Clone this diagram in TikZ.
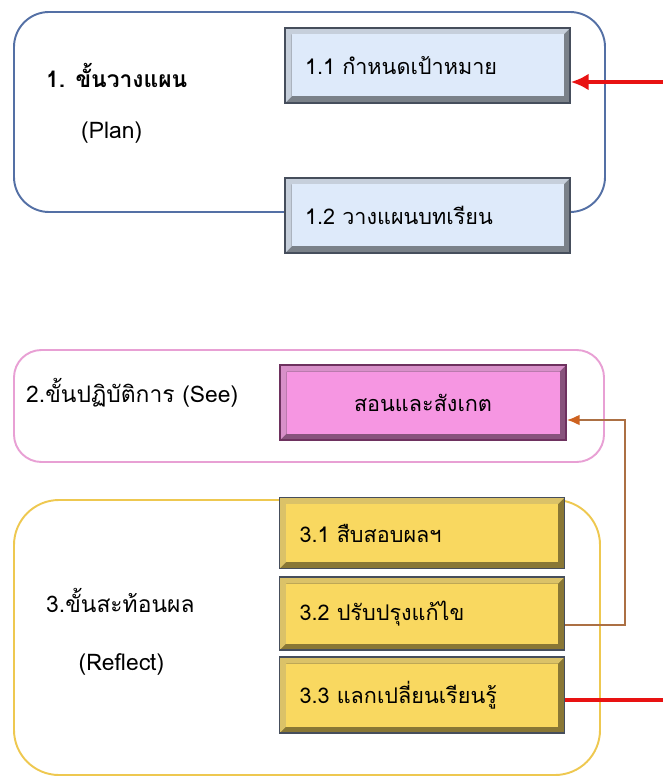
\documentclass[tikz,border=0pt]{standalone}
\usepackage{fontspec}
\setmainfont[Script=Thai]{Loma}
\usepackage{xcolor}
\usetikzlibrary{arrows.meta}

\definecolor{planline}{RGB}{84,112,165}
\definecolor{seeline}{RGB}{232,160,212}
\definecolor{refline}{RGB}{238,200,80}
\definecolor{planface}{RGB}{222,234,250}
\definecolor{seeface}{RGB}{246,150,226}
\definecolor{refface}{RGB}{249,216,96}
\definecolor{boxedge}{RGB}{70,78,92}
\definecolor{seeedge}{RGB}{110,50,95}
\definecolor{arrowred}{RGB}{232,18,18}
\definecolor{loopbrown}{RGB}{172,112,68}
\definecolor{tiporange}{RGB}{206,98,32}

\begin{document}
\begin{tikzpicture}[
  frame/.style={draw=#1, line width=1.1pt},
  bevel/.style 2 args={draw=#2, line width=0.8pt, fill=#1,
    minimum width=5.7cm, minimum height=1.5cm, text width=4.9cm,
    align=left, inner xsep=0.4cm, font=\fontsize{12.3}{14}\selectfont,
    path picture={
      \fill[#1!55!black] (path picture bounding box.south west) rectangle (path picture bounding box.north east);
      \fill[#1!75!gray] (path picture bounding box.south west) -- (path picture bounding box.north west)
        -- (path picture bounding box.north east) -- ([shift={(-0.13,-0.13)}]path picture bounding box.north east)
        -- ([shift={(0.13,-0.13)}]path picture bounding box.north west) -- ([shift={(0.13,0.13)}]path picture bounding box.south west) -- cycle;
      \fill[#1] ([shift={(0.13,0.13)}]path picture bounding box.south west) rectangle ([shift={(-0.13,-0.13)}]path picture bounding box.north east);
    }},
  label/.style={anchor=west, font=\fontsize{13}{15}\selectfont}
]
\useasboundingbox (0,0) rectangle (13.26,-15.54);

% 1. plan
\node[frame=planline, rounded corners=0.7cm, minimum width=11.82cm, minimum height=4cm] at (6.19,-2.24) (plan) {};
\node[label, font=\fontsize{13}{15}\selectfont\bfseries] at (0.8,-1.5) (head1) {1. ขั้นวางแผน};
\node[label] at (1.5,-2.66) (sub1) {(Plan)};
\node[bevel={planface}{boxedge}] at (8.55,-1.31) (s11) {1.1 กำหนดเป้าหมาย};
\node[bevel={planface}{boxedge}] at (8.55,-4.31) (s12) {1.2 วางแผนบทเรียน};

% 2. see
\node[frame=seeline, rounded corners=0.55cm, minimum width=11.8cm, minimum height=2.24cm] at (6.18,-8.12) (see) {};
\node[label] at (0.4,-7.86) (head2) {2.ขั้นปฏิบัติการ (See)};
\node[bevel={seeface}{seeedge}, minimum width=5.72cm, align=center] at (8.46,-8.05) (s2) {สอนและสังเกต};

% 3. reflect
\node[frame=refline, rounded corners=0.9cm, minimum width=11.72cm, minimum height=5.5cm] at (6.14,-12.75) (refl) {};
\node[bevel={refface}{boxedge}, minimum width=5.64cm, minimum height=1.42cm] at (8.44,-10.66) (s31) {3.1 สืบสอบผลฯ};
\node[bevel={refface}{boxedge}, minimum width=5.64cm, minimum height=1.46cm] at (8.44,-12.27) (s32) {3.2 ปรับปรุงแก้ไข};
\node[bevel={refface}{boxedge}, minimum width=5.64cm, minimum height=1.52cm] at (8.44,-13.9) (s33) {3.3 แลกเปลี่ยนเรียนรู้};
\node[label] at (0.8,-12.0) (head3) {3.ขั้นสะท้อนผล};
\node[label] at (1.45,-13.28) (sub3) {(Reflect)};

% connectors
\coordinate (rin) at (13.26,-1.64);
\coordinate (rout) at (13.26,-14.0);
\coordinate (fb) at (12.5,-8.4);
\draw[arrowred, line width=2.8pt, -{Latex[length=0.36cm,width=0.34cm]}] (rin) -- (rin-|s11.east);
\draw[arrowred, line width=2.8pt] (rout-|s33.east) -- (rout);
\draw[loopbrown, line width=1.3pt, -{Latex[length=0.26cm,width=0.22cm,color=tiporange]}] ([yshift=-0.23cm]s32.east) -| (fb) -- (fb-|s2.east);
\end{tikzpicture}
\end{document}
